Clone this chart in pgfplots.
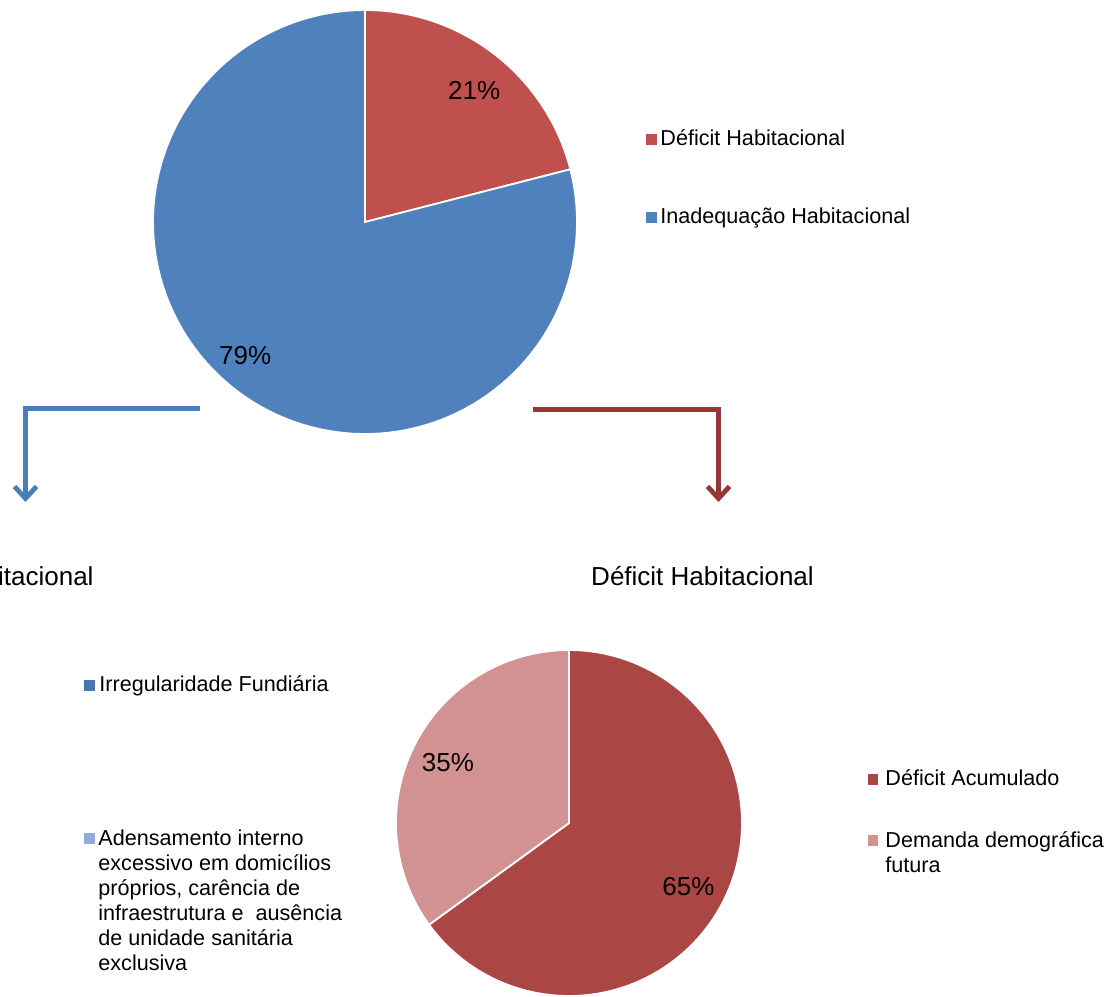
\documentclass[border=0pt]{standalone}
\usepackage{pgfplots}
\pgfplotsset{compat=1.18}
\usepackage{fontspec}
\setmainfont{Liberation Sans}
\usetikzlibrary{arrows.meta}
\definecolor{topred}{HTML}{C0504D}
\definecolor{topblue}{HTML}{4F81BD}
\definecolor{accred}{HTML}{AA4644}
\definecolor{futpink}{HTML}{D19291}
\definecolor{irrblue}{HTML}{4A76AE}
\definecolor{adblue}{HTML}{93ABD8}
\definecolor{arrblue}{HTML}{4A7EBB}
\definecolor{arrred}{HTML}{953735}
% slice: start angle, share in percent, colour
\newcommand{\slice}[3]{%
  \addplot[fill=#3, draw=white, line width=0.9pt, domain={#1-3.6*#2}:{#1}, samples=120, variable=\t]
    ({cos(\t)},{sin(\t)}) -- (axis cs:0,0) -- cycle;}
\newcommand{\lf}{\fontsize{10.8}{12.5}\selectfont}
\begin{document}
\begin{tikzpicture}[x=0.5pt,y=-0.5pt]
\useasboundingbox (0,0) rectangle (1117,996);
\clip (0,0) rectangle (1117,996);
% ---------- top pie ----------
\begin{axis}[at={(182.5pt,-111pt)}, anchor=center, hide axis, scale only axis,
  width=212pt, height=212pt, xmin=-1, xmax=1, ymin=-1, ymax=1, clip=false]
  \slice{90}{21}{topred}
  \slice{14.4}{79}{topblue}
  \node[font=\fontsize{13}{15}\selectfont] at (axis cs:0.515,0.62) {21\%};
  \node[font=\fontsize{13}{15}\selectfont] at (axis cs:-0.565,-0.63) {79\%};
\end{axis}
% ---------- bottom right pie ----------
\begin{axis}[at={(284.5pt,-411.5pt)}, anchor=center, hide axis, scale only axis,
  width=173pt, height=173pt, xmin=-1, xmax=1, ymin=-1, ymax=1, clip=false]
  \slice{90}{65}{accred}
  \slice{-144}{35}{futpink}
  \node[font=\fontsize{13}{15}\selectfont] at (axis cs:-0.70,0.35) {35\%};
  \node[font=\fontsize{13}{15}\selectfont] at (axis cs:0.69,-0.365) {65\%};
\end{axis}
% ---------- top legend ----------
\fill[topred] (645.5,133.5) rectangle +(11,11);
\node[anchor=base west, inner sep=0, font=\lf] at (660,145) {Déficit Habitacional};
\fill[topblue] (645.5,211.5) rectangle +(11,11);
\node[anchor=base west, inner sep=0, font=\lf] at (660,223) {Inadequação Habitacional};
% ---------- arrows ----------
\draw[arrblue, line width=2.5pt, -{Straight Barb[length=6pt,width=11pt,line width=2.4pt]}]
  (200,408) -- (25.5,408) -- (25.5,502);
\draw[arrred, line width=2.5pt, -{Straight Barb[length=6pt,width=11pt,line width=2.4pt]}]
  (533,409) -- (718.5,409) -- (718.5,502);
% ---------- titles ----------
\node[anchor=base east, inner sep=0, font=\fontsize{13}{15}\selectfont] at (94,585) {Inadequação Habitacional};
\node[anchor=base, inner sep=0, font=\fontsize{13}{15}\selectfont] at (702.5,585) {Déficit Habitacional};
% ---------- bottom left legend ----------
\fill[irrblue] (83.5,679.5) rectangle +(11,11);
\node[anchor=base west, inner sep=0, font=\lf] at (99,691) {Irregularidade Fundiária};
\fill[adblue] (83.5,832.5) rectangle +(11,11);
\node[anchor=north west, inner sep=0, align=left, font=\lf] at (98,829)
  {Adensamento interno\\excessivo em domicílios\\próprios, carência de\\infraestrutura e\ \ ausência\\de unidade sanitária\\exclusiva};
% ---------- bottom right legend ----------
\fill[accred] (867.5,773.5) rectangle +(10,11);
\node[anchor=base west, inner sep=0, font=\lf] at (885,785) {Déficit Acumulado};
\fill[futpink] (867.5,834.5) rectangle +(10,11);
\node[anchor=north west, inner sep=0, align=left, font=\lf] at (885,831)
  {Demanda demográfica\\futura};
\end{tikzpicture}
\end{document}
